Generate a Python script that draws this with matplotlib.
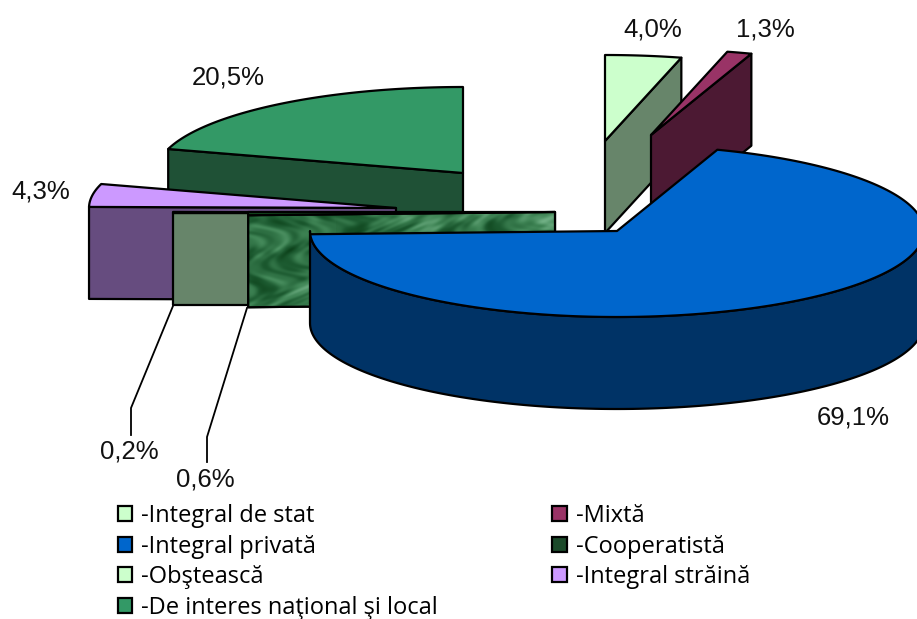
"""
Exploded 3D pie of property forms (shares in %), drawn as projected slices.
"""

import numpy as np
import matplotlib
matplotlib.use("Agg")
import matplotlib.pyplot as plt
from matplotlib.colors import LinearSegmentedColormap
from matplotlib.patches import Patch, Polygon

# ---------------------------------------------------------------------
# Data
# ---------------------------------------------------------------------

CATEGORIES = ["Integral de stat", "Mixtă", "Integral privată", "Cooperatistă",
              "Obştească", "Integral străină", "De interes naţional şi local"]
SHARES = [4.0, 1.3, 69.1, 0.6, 0.2, 4.3, 20.5]
LABELS = ["4,0%", "1,3%", "69,1%", "0,6%", "0,2%", "4,3%", "20,5%"]

# ---------------------------------------------------------------------
# Style and layout
# ---------------------------------------------------------------------

TOP_COLORS = ["#CCFFCC", "#993366", "#0066CC", "#14491F", "#CCFFCC", "#CC99FF", "#339966"]
WALL_COLORS = ["#67856A", "#4C1933", "#003366", None, "#67856A", "#664C7F", "#1F5136"]
LEGEND_COLORS = ["#CCFFCC", "#993366", "#0066CC", "#1B4A2A", "#CCFFCC", "#CC99FF", "#339966"]

APEX_X = [605, 651, 617, 555, 480, 396, 463]
APEX_Y = [141, 135, 231, 212, 213, 208, 173]
LABEL_X = [653, 765, 853, 205, 129, 41, 228]
LABEL_Y = [29, 29, 418, 479, 451, 192, 78]
DRAW_ORDER = [6, 5, 4, 3, 0, 1, 2]

RX, RY, DEPTH = 307.0, 86.0, 92.0
LW = 1.6


def rim(apex_x, apex_y, a0, a1, n=200):
    t = np.radians(np.linspace(a0, a1, n))
    return np.column_stack([apex_x + RX * np.cos(t), apex_y - RY * np.sin(t)])


def add_poly(ax, pts, color, z):
    return ax.add_patch(Polygon(pts, closed=True, facecolor=color, edgecolor="black",
                                lw=LW, joinstyle="round", zorder=z))


def marble(ax, poly):
    # Marbled fill of the cooperative slice's wall, darker lower left, paler upper right
    xx, yy = np.meshgrid(np.linspace(0, 1, 320), np.linspace(0, 1, 100))
    u = xx + 0.06 * np.sin(13.3 * yy + 7.1 * xx)
    v = yy + 0.18 * np.sin(11.9 * xx + 4.3 * yy)
    tex = (np.sin(23.1 * u + 3.7) * np.sin(9.7 * v + 1.3)
           + 0.8 * np.sin(47.3 * u - 9.1 * v) * np.sin(17.9 * v + 11.3 * u)
           + 0.35 * np.sin(83.7 * u + 21.3 * v) * np.sin(37.1 * v - 41.9 * u))
    tex = tex + 1.3 * xx * (1 - yy) + 0.8 * yy * (xx < 0.3)
    cmap = LinearSegmentedColormap.from_list("marble", ["#0B3F18", "#1C5A30", "#3F8455", "#6FAF84"])
    im = ax.imshow(tex, extent=(240, 560, 310, 210), cmap=cmap, aspect="auto",
                   interpolation="bilinear", zorder=poly.get_zorder())
    im.set_clip_path(poly)


def main():
    fig = plt.figure(figsize=(9.17, 6.19), dpi=100)
    ax = fig.add_axes([0, 0, 1, 1])
    plt.rcParams["font.family"] = ["Liberation Sans"]

    # Slices go clockwise from 12 o'clock
    edges = 90 - np.cumsum([0] + SHARES) * 3.6

    z = 2
    for i in DRAW_ORDER:
        a1, a0 = edges[i], edges[i + 1]
        ax_, ay_ = APEX_X[i], APEX_Y[i]

        # Cut wall on the lower edge of the slice
        if i != 2:
            wall_a = a0 if np.sin(np.radians(a0)) < np.sin(np.radians(a1)) else a1
            end = rim(ax_, ay_, wall_a, wall_a, 1)[0]
            wall = [(ax_, ay_), end, (end[0], end[1] + DEPTH), (ax_, ay_ + DEPTH)]
            poly = add_poly(ax, wall, WALL_COLORS[i] or "none", z)
            if WALL_COLORS[i] is None:
                marble(ax, poly)
                z += 1
                add_poly(ax, wall, "none", z)
            z += 1

        # Outer rim only where it faces the viewer
        if i == 2:
            arc = rim(ax_, ay_, -180, 0)
            band = np.vstack([arc, (arc + [0, DEPTH])[::-1]])
            add_poly(ax, band, WALL_COLORS[i], z)
            z += 1

        top = np.vstack([[(ax_, ay_)], rim(ax_, ay_, a0, a1)])
        add_poly(ax, top, TOP_COLORS[i], z)
        z += 1

    # Leader lines of the two smallest slices
    ax.plot([173, 131, 131], [306, 408, 435], color="black", lw=1.3, zorder=z)
    ax.plot([247, 207, 207], [308, 437, 462], color="black", lw=1.3, zorder=z)

    for x, y, s in zip(LABEL_X, LABEL_Y, LABELS):
        ax.text(x, y, s, ha="center", va="center", fontsize=18.5, color="#111111",
                family="Liberation Sans", zorder=z)

    # Legend fills column by column, the categories read across the rows
    order = [0, 2, 4, 6, 1, 3, 5]
    handles = [Patch(facecolor=LEGEND_COLORS[i], edgecolor="black", lw=1.6,
                     label="-" + CATEGORIES[i]) for i in order]
    ax.legend(handles=handles, ncol=2, loc="upper left", bbox_to_anchor=(118 / 917, 1 - 504 / 619),
              borderaxespad=0, borderpad=0, frameon=False, handlelength=0.6, handleheight=0.6,
              handletextpad=0.38, labelspacing=0.28, columnspacing=4.85,
              prop={"family": "Open Sans", "size": 17})

    ax.set_xlim(0, 917)
    ax.set_ylim(619, 0)
    ax.axis("off")
    fig.savefig("out.png", dpi=100)


if __name__ == "__main__":
    main()
